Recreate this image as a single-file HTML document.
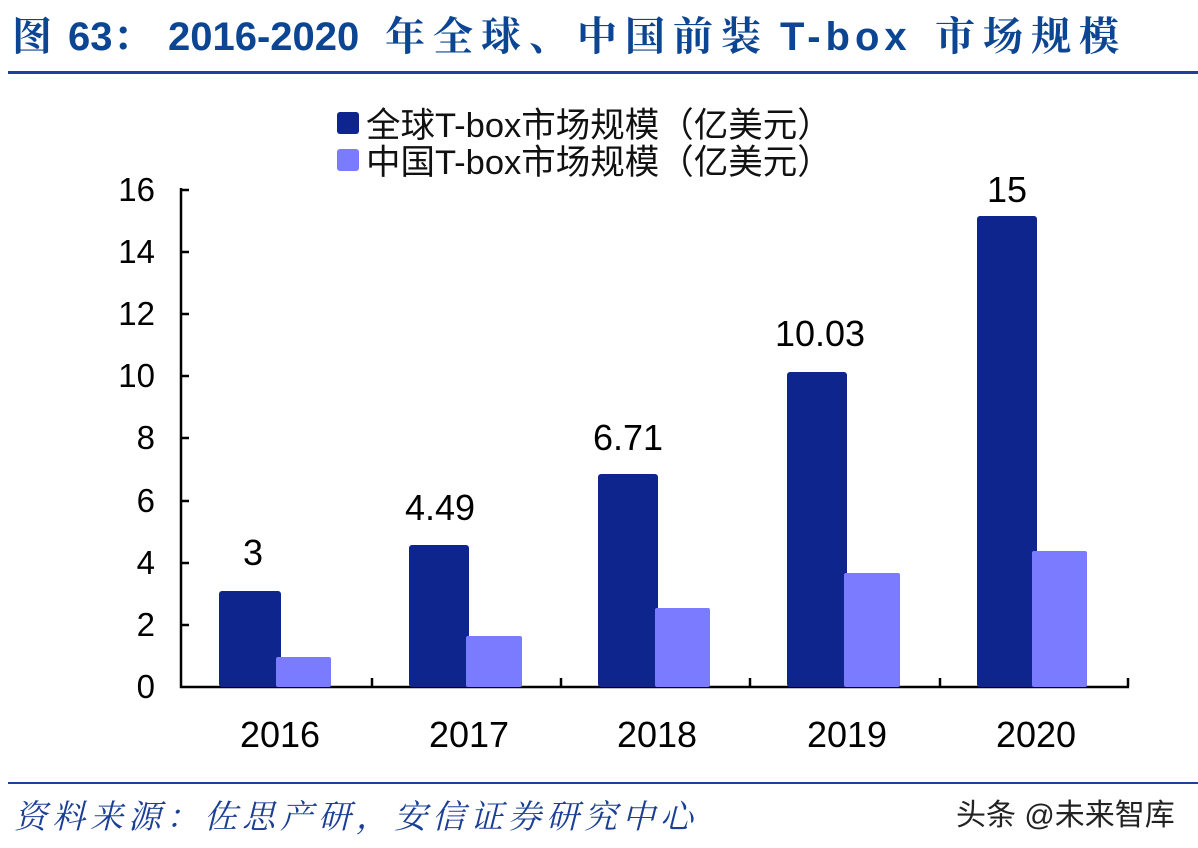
<!DOCTYPE html>
<html><head><meta charset="utf-8"><style>
body{margin:0;width:1198px;height:848px;background:#fff;overflow:hidden;position:relative;font-family:"Liberation Sans","Noto Sans CJK SC",sans-serif}
.t{position:absolute;white-space:nowrap}
.h{position:absolute;top:12px;white-space:nowrap;font-size:40px;font-weight:bold;color:#0c4592;font-family:'Liberation Sans','Noto Serif CJK SC',serif;line-height:50px}
.c{letter-spacing:8px}
</style></head><body>
<div class="h" style="left:12px">图</div>
<div class="h" style="left:68px">63：</div>
<div class="h" style="left:168px">2016-2020</div>
<div class="h c" style="left:385px">年全球、中国前装</div>
<div class="h" style="left:780px;letter-spacing:5px">T-box</div>
<div class="h c" style="left:935px">市场规模</div>
<div style="position:absolute;left:8px;top:71px;width:1190px;height:3px;background:#1e40a0"></div>
<svg width="1198" height="848" style="position:absolute;left:0;top:0" font-family="Liberation Sans, Noto Sans CJK SC, sans-serif">
<rect x="337" y="112" width="22" height="22" rx="3" fill="#0d258c"/>
<text x="366" y="137" font-size="34.5" fill="#111">全球T-box市场规模（亿美元）</text>
<rect x="337" y="149" width="22" height="22" rx="3" fill="#7b7bff"/>
<text x="366" y="174" font-size="34.5" fill="#111">中国T-box市场规模（亿美元）</text>
<g stroke="#000" stroke-width="2.5">
<line x1="181" y1="188" x2="181" y2="688"/>
<line x1="180" y1="687" x2="1129" y2="687"/>
<line x1="181" y1="190" x2="189" y2="190"/><line x1="181" y1="252" x2="189" y2="252"/><line x1="181" y1="314" x2="189" y2="314"/><line x1="181" y1="376" x2="189" y2="376"/><line x1="181" y1="438" x2="189" y2="438"/><line x1="181" y1="501" x2="189" y2="501"/><line x1="181" y1="563" x2="189" y2="563"/><line x1="181" y1="625" x2="189" y2="625"/>
<line x1="372" y1="678" x2="372" y2="687"/><line x1="561" y1="678" x2="561" y2="687"/><line x1="750" y1="678" x2="750" y2="687"/><line x1="940" y1="678" x2="940" y2="687"/><line x1="1128" y1="678" x2="1128" y2="687"/>
</g>
<g font-size="33" fill="#000" text-anchor="end">
<text x="155" y="201">16</text><text x="155" y="263">14</text><text x="155" y="325">12</text><text x="155" y="387">10</text><text x="155" y="449">8</text><text x="155" y="512">6</text><text x="155" y="574">4</text><text x="155" y="636">2</text><text x="155" y="698">0</text>
</g>
<g fill="#0d258c">
<rect x="219" y="591" width="62" height="96" rx="3"/>
<rect x="409" y="545" width="60" height="142" rx="3"/>
<rect x="598" y="474" width="60" height="213" rx="3"/>
<rect x="787" y="372" width="60" height="315" rx="3"/>
<rect x="977" y="216" width="60" height="471" rx="3"/>
</g>
<g fill="#7b7bff">
<rect x="276" y="657" width="55" height="30" rx="2"/>
<rect x="466" y="636" width="56" height="51" rx="2"/>
<rect x="655" y="608" width="55" height="79" rx="2"/>
<rect x="844" y="573" width="56" height="114" rx="2"/>
<rect x="1032" y="551" width="55" height="136" rx="2"/>
</g>
<g font-size="36" fill="#000" text-anchor="middle">
<text x="253" y="565">3</text><text x="440" y="520">4.49</text><text x="628" y="450">6.71</text><text x="820" y="346">10.03</text><text x="1007" y="202">15</text>
</g>
<g font-size="36" fill="#000" text-anchor="middle">
<text x="280" y="747">2016</text><text x="469" y="747">2017</text><text x="657" y="747">2018</text><text x="847" y="747">2019</text><text x="1036" y="747">2020</text>
</g>
</svg>
<div style="position:absolute;left:8px;top:782px;width:1190px;height:2px;background:#1e40a0"></div>
<div class="t" style="left:14px;top:791px;font-size:33px;color:#1a3f95;font-style:italic;font-family:'Liberation Serif','Noto Serif CJK SC',serif;letter-spacing:5px">资料来源：佐思产研，安信证券研究中心</div>
<div class="t" style="left:956px;top:790px;font-size:30px;color:#222">头条 @未来智库</div>
</body></html>
